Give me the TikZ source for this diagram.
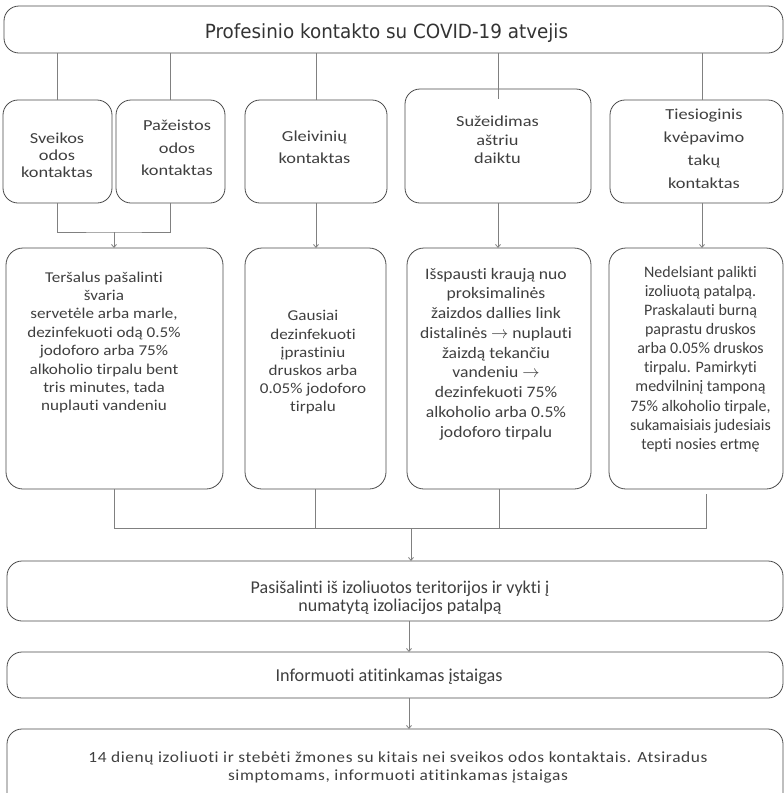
\documentclass[tikz,border=0pt]{standalone}
\usepackage{fontspec}
\defaultfontfeatures{Ligatures={NoCommon}}
\setmainfont{Carlito}
\newfontfamily\titlefont[FakeStretch=0.94]{DejaVu Sans}
\newfontfamily\wideA[FakeStretch=1.2]{Carlito}
\newfontfamily\wideB[FakeStretch=1.14]{Carlito}
\newfontfamily\wideC[FakeStretch=1.1]{Carlito}
\newfontfamily\wideD[FakeStretch=1.12,LetterSpace=4]{Carlito}
\usetikzlibrary{arrows.meta}
\definecolor{boxc}{HTML}{4A4A4A}
\definecolor{connc}{HTML}{808080}
\definecolor{txtc}{HTML}{3F3F3F}
\begin{document}
\begin{tikzpicture}[x=1pt,y=-1pt,
  box/.style={draw=boxc,line width=0.8pt,rounded corners=#1,inner sep=0pt,outer sep=0pt},
  box/.default=15pt,
  txt/.style={text=txtc,align=center,inner sep=0pt},
  conn/.style={draw=connc,line width=0.8pt},
  arr/.style={conn,-{Straight Barb[length=3pt,width=5pt]}}]
\useasboundingbox (0,0) rectangle (784,793);
\clip (0,0) rectangle (784,793);
% boxes
\node[box,minimum width=779pt,minimum height=47pt] (top) at (393.5,29.5) {};
\node[box,minimum width=109pt,minimum height=103pt] (sve) at (57.5,151.5) {};
\node[box,minimum width=109pt,minimum height=103pt] (paz) at (170.5,151.5) {};
\node[box,minimum width=142pt,minimum height=103pt] (gle) at (316,151.5) {};
\node[box,minimum width=186pt,minimum height=114pt] (suz) at (498,146) {};
\node[box,minimum width=173pt,minimum height=103pt] (tie) at (696.5,151.5) {};
\node[box=17pt,minimum width=217pt,minimum height=241pt] (b1) at (114.5,368.5) {};
\node[box=17pt,minimum width=141pt,minimum height=241pt] (b2) at (315.5,368.5) {};
\node[box=17pt,minimum width=184pt,minimum height=241pt] (b3) at (499,368.5) {};
\node[box=17pt,minimum width=174pt,minimum height=241pt] (b4) at (696,368.5) {};
\node[box,minimum width=776pt,minimum height=60pt] (pas) at (395,591) {};
\node[box,minimum width=776pt,minimum height=46pt] (inf) at (395,675) {};
\node[box,minimum width=776pt,minimum height=101pt] (last) at (395,779.5) {};
% texts
\node[txt,font=\titlefont\fontsize{19.5}{22}\selectfont,text=black!80] (t0) at (386.5,33) {Profesinio kontakto su COVID-19 atvejis};
\node[txt,font=\wideA\fontsize{15.3}{17}\selectfont] (t1) at (57,155) {Sveikos\\odos\\kontaktas};
\node[txt,font=\wideA\fontsize{15.3}{22.5}\selectfont] (t2) at (177,148) {Pažeistos\\odos\\kontaktas};
\node[txt,font=\wideA\fontsize{15.3}{22}\selectfont] (t3) at (314.5,147) {Gleivinių\\kontaktas};
\node[txt,font=\wideA\fontsize{15.3}{18.5}\selectfont] (t4) at (497.5,140) {Sužeidimas\\aštriu\\daiktu};
\node[txt,font=\wideA\fontsize{15.3}{23}\selectfont] (t5) at (704,149) {Tiesioginis\\kvėpavimo\\takų\\kontaktas};
\node[txt,font=\wideB\fontsize{15}{18.4}\selectfont] (t6) at (104,342.5) {Teršalus pašalinti\\švaria\\servetėle arba marle,\\dezinfekuoti odą 0.5\%\\jodoforo arba 75\%\\alkoholio tirpalu bent\\tris minutes, tada\\nuplauti vandeniu};
\node[txt,font=\wideB\fontsize{15}{18.2}\selectfont] (t7) at (313,362.5) {Gausiai\\dezinfekuoti\\įprastiniu\\druskos arba\\0.05\% jodoforo\\tirpalu};
\node[txt,font=\wideC\fontsize{16}{19.75}\selectfont] (t8) at (496,354) {Išspausti kraują nuo\\proksimalinės\\žaizdos dallies link\\distalinės $\rightarrow$ nuplauti\\žaizdą tekančiu\\vandeniu $\rightarrow$\\dezinfekuoti 75\%\\alkoholio arba 0.5\%\\jodoforo tirpalu};
\node[txt,font=\fontsize{16}{19.1}\selectfont] (t9) at (700.5,359) {Nedelsiant palikti\\izoliuotą patalpą.\\Praskalauti burną\\paprastu druskos\\arba 0.05\% druskos\\tirpalu. Pamirkyti\\medvilninį tamponą\\75\% alkoholio tirpale,\\sukamaisiais judesiais\\tepti nosies ertmę};
\node[txt,font=\fontsize{18}{18}\selectfont] (t10) at (400,598) {Pasišalinti iš izoliuotos teritorijos ir vykti į\\numatytą izoliacijos patalpą};
\node[txt,font=\fontsize{18.2}{18}\selectfont] (t11) at (389,677) {Informuoti atitinkamas įstaigas};
\node[txt,font=\wideD\fontsize{15.5}{18}\selectfont] (t12) at (398,767) {14 dienų izoliuoti ir stebėti žmones su kitais nei sveikos odos kontaktais. Atsiradus\\simptomams, informuoti atitinkamas įstaigas};
% helper coordinates
\coordinate (tq) at (702,0);
\coordinate (suzin) at (498,99);
\coordinate (j1) at (114,232);
\coordinate (j2) at (411,528);
\coordinate (b4gap) at (706,494);
\coordinate (ax) at (409,0);
% connectors from top
\draw[conn] (top.south -| sve) -- (sve.north);
\draw[conn] (top.south -| paz) -- (paz.north);
\draw[conn] (top.south -| gle) -- (gle.north);
\draw[conn] (top.south -| suzin) -- (suzin);
\draw[conn] (top.south -| tq) -- (tq |- tie.north);
% to row 3
\draw[conn] (sve.south) |- (j1) -| (paz.south);
\draw[arr] (j1) -- (j1 |- b1.north);
\draw[arr] (gle.south) -- (gle.south |- b2.north);
\draw[arr] (suz.south) -- (suz.south |- b3.north);
\draw[arr] (tq |- tie.south) -- (tq |- b4.north);
% join below row 3
\draw[conn] (b1.south) |- (j2);
\draw[conn] (b2.south) -- (b2.south |- j2);
\draw[conn] (b3.south) |- (j2);
\draw[conn] (b4gap) |- (j2);
\draw[arr] (j2) -- (j2 |- pas.north);
\draw[arr] (ax |- pas.south) -- (ax |- inf.north);
\draw[arr] (ax |- inf.south) -- (ax |- last.north);
\end{tikzpicture}
\end{document}
